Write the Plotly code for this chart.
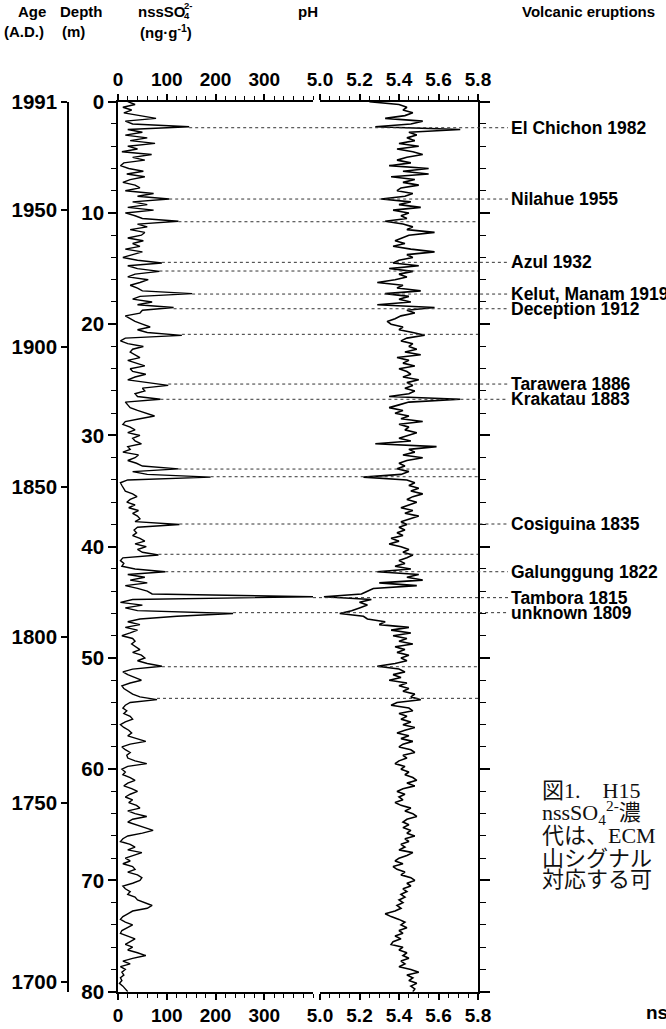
import numpy as np
import plotly.graph_objects as go

W, H = 666, 1029

# Ice core sampled every 0.25 m from 0 to 80 m depth
SAMPLE_STEP_M = 0.25

# nssSO4(2-) concentration (ng/g), one value per sample
nss_so4 = [
    20, 35, 10, 28, 12, 45, 78, 15, 30, 146, 20, 50, 15, 60, 25, 76, 20, 40, 8, 69,
    30, 55, 12, 5, 22, 52, 18, 55, 25, 10, 35, 45, 15, 73, 40, 105, 30, 60, 20, 73,
    15, 35, 50, 124, 40, 60, 25, 55, 48, 20, 52, 30, 45, 15, 50, 30, 10, 40, 90, 20,
    40, 85, 35, 20, 62, 45, 25, 40, 50, 152, 45, 30, 70, 40, 114, 50, 45, 15, 25, 35,
    50, 66, 40, 60, 131, 15, 5, 20, 52, 30, 25, 35, 45, 20, 40, 55, 25, 30, 57, 35,
    20, 60, 103, 50, 55, 35, 40, 87, 15, 20, 25, 40, 60, 75, 45, 15, 10, 25, 35, 20,
    45, 30, 35, 48, 20, 25, 10, 42, 35, 20, 38, 50, 124, 30, 60, 190, 20, 5, 8, 12,
    15, 30, 39, 25, 18, 35, 22, 42, 30, 40, 45, 35, 126, 40, 33, 38, 30, 45, 55, 35,
    58, 40, 50, 83, 10, 5, 12, 8, 35, 97, 20, 55, 25, 60, 15, 40, 60, 70, 400, 30,
    5, 50, 15, 40, 236, 121, 45, 20, 45, 15, 40, 25, 8, 30, 35, 28, 38, 45, 30, 48,
    55, 40, 60, 90, 30, 10, 20, 35, 48, 25, 8, 12, 20, 30, 45, 80, 25, 15, 10, 18,
    12, 25, 30, 15, 5, 12, 22, 28, 20, 40, 57, 25, 8, 15, 25, 18, 20, 35, 59, 20,
    8, 15, 10, 25, 35, 20, 12, 28, 40, 25, 15, 30, 22, 38, 45, 20, 35, 59, 30, 20,
    40, 55, 72, 50, 20, 10, 5, 25, 35, 20, 49, 30, 15, 25, 10, 30, 35, 20, 40, 49,
    45, 30, 10, 15, 25, 20, 35, 40, 55, 70, 60, 30, 20, 10, 5, 15, 30, 20, 8, 5,
    20, 35, 25, 15, 30, 20, 40, 57, 30, 10, 25, 5, 15, 8, 12, 5, 8, 3, 10, 15, 20,
]

# pH, one value per sample
ph = [
    5.25, 5.40, 5.44, 5.42, 5.47, 5.43, 5.33, 5.52, 5.46, 5.28, 5.71, 5.45, 5.49, 5.44, 5.48, 5.40, 5.50, 5.39, 5.47, 5.52,
    5.44, 5.39, 5.46, 5.35, 5.55, 5.42, 5.55, 5.36, 5.48, 5.42, 5.50, 5.41, 5.39, 5.47, 5.43, 5.31, 5.46, 5.40, 5.51, 5.37,
    5.45, 5.41, 5.44, 5.33, 5.42, 5.47, 5.44, 5.58, 5.45, 5.41, 5.38, 5.43, 5.37, 5.46, 5.58, 5.44, 5.47, 5.40, 5.37, 5.50,
    5.35, 5.47, 5.40, 5.44, 5.38, 5.29, 5.42, 5.39, 5.51, 5.33, 5.45, 5.40, 5.46, 5.29, 5.58, 5.44, 5.48, 5.41, 5.38, 5.34,
    5.36, 5.42, 5.40, 5.47, 5.53, 5.44, 5.41, 5.47, 5.45, 5.49, 5.43, 5.51, 5.39, 5.45, 5.42, 5.48, 5.40, 5.44, 5.46, 5.42,
    5.50, 5.44, 5.47, 5.43, 5.48, 5.45, 5.35, 5.71, 5.45, 5.40, 5.35, 5.42, 5.38, 5.45, 5.41, 5.52, 5.40, 5.45, 5.43, 5.49,
    5.44, 5.40, 5.46, 5.28, 5.59, 5.45, 5.48, 5.42, 5.52, 5.44, 5.40, 5.43, 5.39, 5.45, 5.41, 5.22, 5.44, 5.48, 5.45, 5.50,
    5.46, 5.52, 5.47, 5.44, 5.49, 5.45, 5.41, 5.47, 5.43, 5.50, 5.45, 5.41, 5.44, 5.40, 5.43, 5.39, 5.42, 5.36, 5.40, 5.35,
    5.41, 5.45, 5.42, 5.47, 5.44, 5.40, 5.43, 5.38, 5.46, 5.29, 5.50, 5.44, 5.52, 5.30, 5.49, 5.27, 5.24, 5.21, 5.02, 5.26,
    5.20, 5.24, 5.20, 5.16, 5.10, 5.22, 5.24, 5.33, 5.30, 5.45, 5.36, 5.46, 5.37, 5.44, 5.40, 5.47, 5.38, 5.43, 5.39, 5.45,
    5.41, 5.44, 5.38, 5.29, 5.40, 5.43, 5.37, 5.41, 5.35, 5.44, 5.40, 5.45, 5.42, 5.48, 5.46, 5.51, 5.39, 5.36, 5.45, 5.47,
    5.40, 5.44, 5.41, 5.46, 5.42, 5.48, 5.43, 5.39, 5.45, 5.41, 5.47, 5.42, 5.40, 5.46, 5.48, 5.42, 5.44, 5.40, 5.38, 5.43,
    5.41, 5.45, 5.43, 5.47, 5.49, 5.44, 5.48, 5.42, 5.39, 5.43, 5.40, 5.42, 5.38, 5.41, 5.46, 5.43, 5.47, 5.49, 5.44, 5.42,
    5.45, 5.42, 5.46, 5.44, 5.48, 5.43, 5.45, 5.41, 5.43, 5.40, 5.47, 5.44, 5.40, 5.38, 5.42, 5.37, 5.39, 5.43, 5.41, 5.46,
    5.48, 5.44, 5.46, 5.42, 5.44, 5.41, 5.43, 5.40, 5.42, 5.39, 5.41, 5.38, 5.33, 5.36, 5.40, 5.43, 5.41, 5.44, 5.40, 5.42,
    5.38, 5.41, 5.37, 5.36, 5.42, 5.40, 5.44, 5.42, 5.45, 5.41, 5.43, 5.40, 5.46, 5.50, 5.44, 5.47, 5.45, 5.49, 5.46, 5.48, 5.47,
]

depth = np.arange(len(nss_so4)) * SAMPLE_STEP_M

# Volcanic signals (depth in m) and their attributed eruptions
event_depth = [2.34, 8.75, 10.79, 14.44, 15.22, 17.29, 18.61, 20.91, 25.38, 26.75,
               33.02, 33.71, 37.96, 40.68, 42.25, 44.58, 45.93, 50.79, 53.63]
event_name = ["El Chichon 1982", "Nilahue 1955", "", "Azul 1932", "",
              "Kelut, Manam 1919", "Deception 1912", "", "Tarawera 1886", "Krakatau 1883",
              "", "", "Cosiguina 1835", "", "Galunggung 1822",
              "Tambora 1815", "unknown 1809", "", ""]

# Age scale: year A.D. and the depth (m) it corresponds to
age_year = ["1991", "1950", "1900", "1850", "1800", "1750", "1700"]
age_depth = [0.0, 9.73, 22.05, 34.61, 48.09, 63.04, 79.10]

so4_ticks = [0, 100, 200, 300]
ph_ticks = [5.0, 5.2, 5.4, 5.6, 5.8]
depth_ticks = [0, 10, 20, 30, 40, 50, 60, 70, 80]

SO4_RANGE = [0, 400]
PH_RANGE = [5.0, 5.8]
DEPTH_RANGE = [80, 0]

FONT = "Liberation Sans, Arial, sans-serif"


def fx(px):
    return px / W


def fy(py):
    return 1 - py / H


so4_dom = [fx(118), fx(313)]
ph_dom = [fx(320), fx(478)]
y_dom = [fy(991.7), fy(101.7)]

fig = go.Figure()
fig.add_trace(go.Scatter(x=nss_so4, y=depth, mode="lines", xaxis="x", yaxis="y",
                         line=dict(color="black", width=1.4), hoverinfo="skip"))
fig.add_trace(go.Scatter(x=ph, y=depth, mode="lines", xaxis="x2", yaxis="y",
                         line=dict(color="black", width=1.6), hoverinfo="skip"))
# invisible anchors so the mirrored axes are rendered
for xa, ya, xv in [("x3", "y", 0), ("x4", "y", 5.4), ("x", "y2", 0), ("x", "y3", 0)]:
    fig.add_trace(go.Scatter(x=[xv], y=[0], mode="markers", xaxis=xa, yaxis=ya,
                             marker=dict(opacity=0), hoverinfo="skip"))

x_tick_font = dict(family=FONT, size=19, color="black", weight="bold")
y_tick_font = dict(family=FONT, size=20.5, color="black", weight="bold")
common = dict(showgrid=False, zeroline=False, showline=True, linecolor="black", linewidth=1.6,
              ticks="outside", ticklen=6, tickwidth=1.6, tickcolor="black", fixedrange=True)


def minor(step, start, length=4, width=1.2):
    return dict(tickmode="linear", tick0=start, dtick=step, ticklen=length,
                ticks="outside", tickcolor="black", tickwidth=width)


fig.update_layout(
    width=W, height=H, autosize=False,
    margin=dict(l=0, r=0, t=0, b=0, pad=0, autoexpand=False),
    paper_bgcolor="white", plot_bgcolor="white",
    showlegend=False,
    xaxis=dict(domain=so4_dom, range=SO4_RANGE, anchor="y", side="bottom",
               tickmode="array", tickvals=so4_ticks, minor=minor(20, 0),
               tickfont=x_tick_font, **common),
    xaxis2=dict(domain=ph_dom, range=PH_RANGE, anchor="y", side="bottom",
                tickmode="array", tickvals=ph_ticks, tickformat=".1f", minor=minor(0.05, 5.0),
                tickfont=x_tick_font, **common),
    xaxis3=dict(domain=so4_dom, range=SO4_RANGE, anchor="y", side="top", overlaying="x",
                tickmode="array", tickvals=so4_ticks, minor=minor(20, 0),
                tickfont=x_tick_font, **common),
    xaxis4=dict(domain=ph_dom, range=PH_RANGE, anchor="y", side="top", overlaying="x2",
                tickmode="array", tickvals=ph_ticks, tickformat=".1f", minor=minor(0.05, 5.0),
                tickfont=x_tick_font, **common),
    yaxis=dict(domain=y_dom, range=DEPTH_RANGE, anchor="x", side="left",
               tickmode="array", tickvals=depth_ticks, minor=minor(2, 0, 5),
               tickfont=y_tick_font, **{**common, "ticklen": 8}),
    yaxis2=dict(domain=y_dom, range=DEPTH_RANGE, anchor="x2", side="right", overlaying="y",
                tickmode="array", tickvals=depth_ticks, showticklabels=False,
                minor=minor(2, 0, 6), **{**common, "ticklen": 10}),
    yaxis3=dict(domain=y_dom, range=DEPTH_RANGE, anchor="free", position=fx(68), side="left",
                overlaying="y", tickmode="array", tickvals=age_depth, ticktext=age_year,
                tickfont=y_tick_font, **common),
)

# dotted lines linking each sulfate peak to its eruption
label_font = dict(family=FONT, size=17.5, color="black", weight="bold")
for d, name in zip(event_depth, event_name):
    v = nss_so4[int(round(d / SAMPLE_STEP_M))]
    x0 = so4_dom[0] + (v - SO4_RANGE[0]) / (SO4_RANGE[1] - SO4_RANGE[0]) * (so4_dom[1] - so4_dom[0])
    x1 = fx(508) if name else ph_dom[1]
    fig.add_shape(type="line", xref="paper", yref="y", x0=x0, x1=x1, y0=d, y1=d,
                  line=dict(color="#333333", width=1, dash="dot"))
    if name:
        fig.add_annotation(xref="paper", yref="y", x=fx(509), y=d, text=name,
                           xanchor="left", yanchor="middle", showarrow=False, font=label_font)

head_font = dict(family=FONT, size=15, color="black", weight="bold")
headers = [
    ("Age", 16, 12), ("Depth", 58, 12), ("nssSO", 136, 12), ("pH", 296, 12),
    ("Volcanic eruptions", 520, 12),
    ("(A.D.)", 2, 31), ("(m)", 60, 31), ("(ng·g<sup>-1</sup>)", 138, 31),
]
for text, x, y in headers:
    fig.add_annotation(xref="paper", yref="paper", x=fx(x), y=fy(y), text=text,
                       xanchor="left", yanchor="middle", showarrow=False, font=head_font)
small_font = dict(family=FONT, size=9.5, color="black", weight="bold")
fig.add_annotation(xref="paper", yref="paper", x=fx(182), y=fy(6), text="2-",
                   xanchor="left", yanchor="middle", showarrow=False, font=small_font)
fig.add_annotation(xref="paper", yref="paper", x=fx(182), y=fy(16), text="4",
                   xanchor="left", yanchor="middle", showarrow=False, font=small_font)

# caption block at the lower right
cap_font = dict(family="Liberation Serif, Noto Sans CJK JP, serif", size=22, color="#111111")
caption = [
    ("図1.　H15", 790),
    ("nssSO<sub>4</sub><sup>2-</sup>濃", 812),
    ("代は、ECM", 835),
    ("山シグナル", 858),
    ("対応する可", 879),
]
for text, y in caption:
    fig.add_annotation(xref="paper", yref="paper", x=fx(540), y=fy(y), text=text,
                       xanchor="left", yanchor="middle", showarrow=False, font=cap_font)
fig.add_annotation(xref="paper", yref="paper", x=fx(644), y=fy(1012), text="nssSO",
                   xanchor="left", yanchor="middle", showarrow=False,
                   font=dict(family=FONT, size=19, color="black", weight="bold"))

fig.write_html("out.html")
